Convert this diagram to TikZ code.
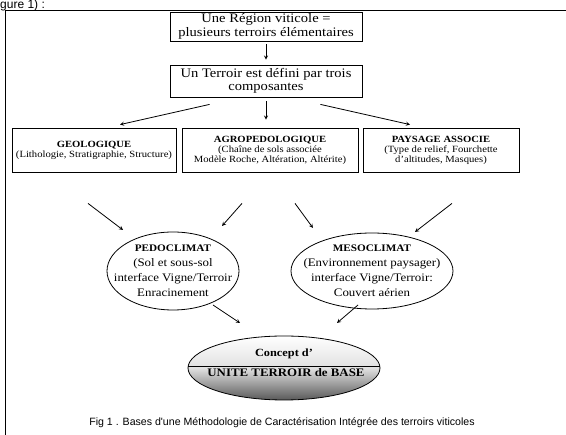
\documentclass[tikz,border=0pt]{standalone}
\usepackage{fontspec}
\setmainfont[FakeStretch=1.12]{Liberation Serif}
\newfontfamily\capfont{Liberation Sans}
\usetikzlibrary{shapes.geometric}

\begin{document}
\begin{tikzpicture}[x=1pt, y=-1pt, >=stealth,
  box/.style={draw, thick, align=center, inner sep=1pt},
  oval/.style={draw, thick, ellipse, align=center, inner sep=-40pt},
  arr/.style={thick, ->}]
  \useasboundingbox (0,0) rectangle (566,435);

  % frame
  \draw[very thin] (5,435) -- (5,10.5) -- (566,10.5);
  \node[anchor=north west, inner sep=0pt, font=\capfont\fontsize{12}{12}\selectfont] (fig) at (0,0) {gure 1) :};

  % top boxes
  \node[box, minimum width=192pt, minimum height=29pt, font=\fontsize{13}{13.5}\selectfont] (region) at (266,26.5)
    {Une Région viticole =\\plusieurs terroirs élémentaires};
  \node[box, minimum width=192pt, minimum height=32pt, font=\fontsize{13}{13.5}\selectfont] (terroir) at (266,81)
    {Un Terroir est défini par trois\\composantes};

  % three components
  \node[box, minimum width=164pt, minimum height=44pt, font=\fontsize{9.5}{10}\selectfont] (geo) at (94,150)
    {\textbf{GEOLOGIQUE}\\(Lithologie, Stratigraphie, Structure)};
  \node[box, minimum width=176pt, minimum height=44pt, font=\fontsize{9.5}{10}\selectfont] (agro) at (270,150)
    {\textbf{AGROPEDOLOGIQUE}\\(Chaîne de sols associée\\Modèle Roche, Altération, Altérite)};
  \node[box, minimum width=156pt, minimum height=44pt, font=\fontsize{9.5}{10}\selectfont] (pays) at (441,150)
    {\textbf{PAYSAGE ASSOCIE}\\(Type de relief, Fourchette\\d'altitudes, Masques)};

  % climates
  \node[oval, minimum width=132pt, minimum height=78pt, font=\fontsize{11.5}{15}\selectfont] (pedo) at (173,271)
    {{\fontsize{10}{10}\selectfont\textbf{PEDOCLIMAT}}\\(Sol et sous-sol\\interface Vigne/Terroir\\Enracinement};
  \node[oval, minimum width=162pt, minimum height=76pt, font=\fontsize{11.5}{15}\selectfont] (meso) at (372,271)
    {{\fontsize{10}{10}\selectfont\textbf{MESOCLIMAT}}\\(Environnement paysager)\\interface Vigne/Terroir:\\Couvert aérien};

  % base unit
  \node[oval, minimum width=192pt, minimum height=64pt, top color=white, bottom color=black!65, middle color=black!12] (concept) at (284,368) {};
  \draw ([yshift=2pt]concept.west) -- ([yshift=2pt]concept.east);
  \node[font=\bfseries\fontsize{11}{11}\selectfont] (concept-a) at (284,354) {Concept d'};
  \node[font=\bfseries\fontsize{11.5}{11.5}\selectfont] (concept-b) at (286,373) {UNITE TERROIR de BASE};

  \node[font=\capfont\fontsize{10.6}{10.6}\selectfont] (caption) at (282,423)
    {Fig 1 . Bases d'une Méthodologie de Caractérisation Intégrée des terroirs viticoles};

  % arrows
  \draw[arr, shorten <=3pt, shorten >=5pt] (region) -- (terroir);
  \draw[arr] ([yshift=-4pt]terroir.south) -- ([yshift=8pt]terroir.south |- agro.north);
  \draw[arr] ([shift={(40,7)}]terroir.south west) -- ([shift={(26,-3)}]geo.north);
  \draw[arr] ([shift={(-42,7)}]terroir.south east) -- ([shift={(-31,-3)}]pays.north);

  \draw[arr] ([shift={(-6,31)}]geo.south) -- ([shift={(-50,-41)}]pedo.center);
  \draw[arr] ([shift={(-28,31)}]agro.south) -- ([shift={(49,-45)}]pedo.center);
  \draw[arr] ([shift={(25,31)}]agro.south) -- ([shift={(-59,-43)}]meso.center);
  \draw[arr] ([shift={(11,31)}]pays.south) -- ([shift={(43,-39)}]meso.center);

  \draw[arr] ([shift={(40,34)}]pedo.center) -- ([shift={(-44,-45)}]concept.center);
  \draw[arr] ([shift={(-14,34)}]meso.center) -- ([shift={(53,-45)}]concept.center);
\end{tikzpicture}
\end{document}
